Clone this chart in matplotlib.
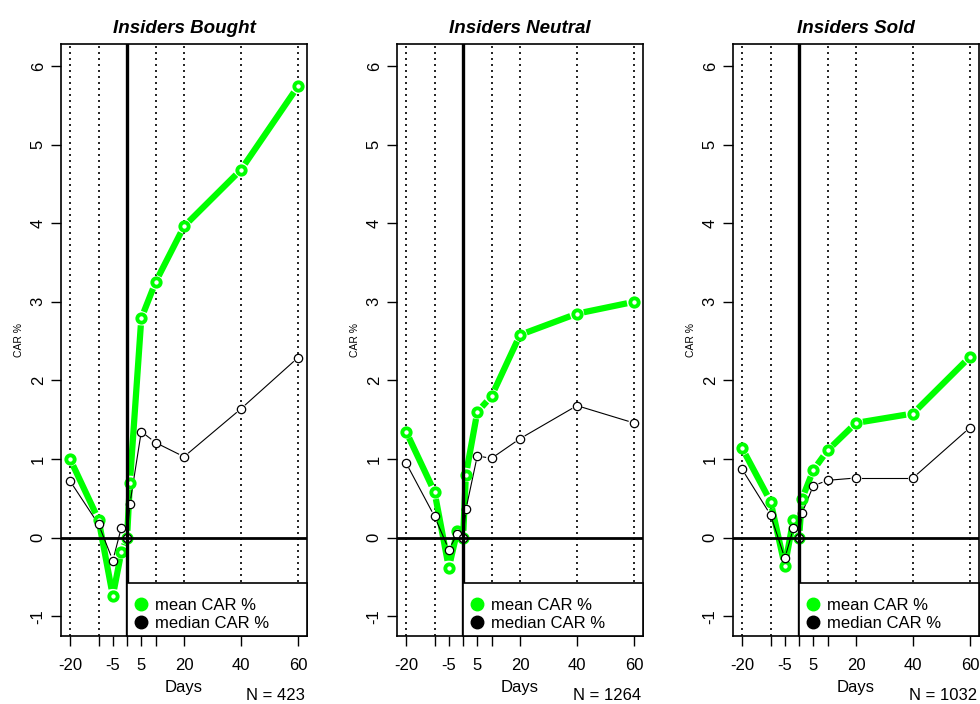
import numpy as np
import matplotlib
matplotlib.use('Agg')
import matplotlib.pyplot as plt
from matplotlib.lines import Line2D
from matplotlib.patches import Rectangle

plt.rcParams['font.family'] = ['Liberation Sans', 'DejaVu Sans']
plt.rcParams['axes.unicode_minus'] = False

# event window (days around insider filing)
days = [-20, -10, -5, -2, 0, 1, 5, 10, 20, 40, 60]

titles = ['Insiders Bought', 'Insiders Neutral', 'Insiders Sold']
n_obs = [423, 1264, 1032]

bought_mean = [1.00, 0.23, -0.74, -0.18, 0.0, 0.70, 2.79, 3.25, 3.96, 4.68, 5.74]
bought_median = [0.72, 0.17, -0.29, 0.13, 0.0, 0.43, 1.35, 1.21, 1.03, 1.64, 2.29]
neutral_mean = [1.35, 0.58, -0.38, 0.09, 0.0, 0.80, 1.60, 1.80, 2.58, 2.85, 3.00]
neutral_median = [0.95, 0.27, -0.15, 0.05, 0.0, 0.36, 1.04, 1.01, 1.26, 1.68, 1.46]
sold_mean = [1.14, 0.46, -0.36, 0.23, 0.0, 0.49, 0.86, 1.11, 1.46, 1.58, 2.30]
sold_median = [0.87, 0.29, -0.26, 0.12, 0.0, 0.31, 0.66, 0.73, 0.76, 0.76, 1.40]

means = [bought_mean, neutral_mean, sold_mean]
medians = [bought_median, neutral_median, sold_median]

grid_days = [-20, -10, 10, 20, 40, 60]
xticks = [-20, -10, -5, 0, 5, 10, 20, 40, 60]
xticklabels = ['-20', '', '-5', '', '5', '', '20', '40', '60']
yticks = [-1, 0, 1, 2, 3, 4, 5, 6]

GREEN = '#00ff00'
W, H = 980, 704


def gapped_line(ax, x, y, gap_px, **kw):
    # R type="b": line segments stop short of each point
    pts = ax.transData.transform(np.column_stack([x, y]))
    inv = ax.transData.inverted()
    for p0, p1 in zip(pts[:-1], pts[1:]):
        d = p1 - p0
        length = np.hypot(*d)
        if length <= 2 * gap_px:
            continue
        u = d / length
        seg = inv.transform(np.array([p0 + u * gap_px, p1 - u * gap_px]))
        ax.plot(seg[:, 0], seg[:, 1], **kw)


fig = plt.figure(figsize=(W / 100, H / 100), dpi=100)

for i in range(3):
    left_px = 61 + 336 * i
    ax = fig.add_axes([left_px / W, (H - 636) / H, 246 / W, 592 / H])
    ax.set_xlim(-23.2, 63.2)
    ax.set_ylim(-1.25, 6.28)

    # dotted verticals and the zero cross
    for d in grid_days:
        ax.axvline(d, color='black', lw=1.2, dashes=(1.2, 2.4), zorder=1)

    gapped_line(ax, days, means[i], 7, color=GREEN, lw=4.5,
                solid_capstyle='butt', zorder=2)
    ax.plot(days, means[i], 'o', ms=6, mfc='white', mec=GREEN, mew=2.8,
            ls='none', zorder=3)
    gapped_line(ax, days, medians[i], 6, color='black', lw=0.8, zorder=2)
    ax.plot(days, medians[i], 'o', ms=6, mfc='white', mec='black', mew=0.9,
            ls='none', zorder=3)

    ax.axhline(0, color='black', lw=2, zorder=4)
    ax.axvline(0, color='black', lw=2.4, zorder=4)

    # legend box anchored at day 0
    ax.add_patch(Rectangle((0, -1.25), 63.2, 1.25 - 0.57, fill=True,
                           facecolor='white', edgecolor='black', lw=1.2,
                           zorder=5, clip_on=False))
    handles = [Line2D([], [], marker='o', ls='none', color=GREEN, ms=9),
               Line2D([], [], marker='o', ls='none', color='black', ms=9)]
    leg = ax.legend(handles, ['mean CAR %', 'median CAR %'], loc='upper left',
                    bbox_to_anchor=(0, -0.67), bbox_transform=ax.transData,
                    frameon=False, fontsize=12, borderaxespad=0, borderpad=0.45,
                    handlelength=0.8, handletextpad=0.45, labelspacing=0.2)
    leg.set_zorder(6)

    ax.set_xticks(xticks)
    ax.set_xticklabels(xticklabels, fontsize=12)
    ax.set_yticks(yticks)
    ax.set_yticklabels([str(v) for v in yticks], fontsize=12, rotation=90,
                       va='center')
    ax.tick_params(direction='out', length=7, width=1)
    ax.tick_params(axis='x', pad=9)
    ax.tick_params(axis='y', pad=4)
    for sp in ax.spines.values():
        sp.set_linewidth(1.2)

    ax.set_title(titles[i], fontsize=13.5, fontweight='bold', style='italic',
                 pad=8)
    ax.set_ylabel('CAR %', fontsize=7.5)
    ax.yaxis.set_label_coords(-0.15, 0.5)
    ax.set_xlabel('Days', fontsize=12, labelpad=5)
    ax.text(0.992, -0.1, f'N = {n_obs[i]}', transform=ax.transAxes,
            ha='right', va='center', fontsize=12)

fig.savefig('out.png', dpi=100)
